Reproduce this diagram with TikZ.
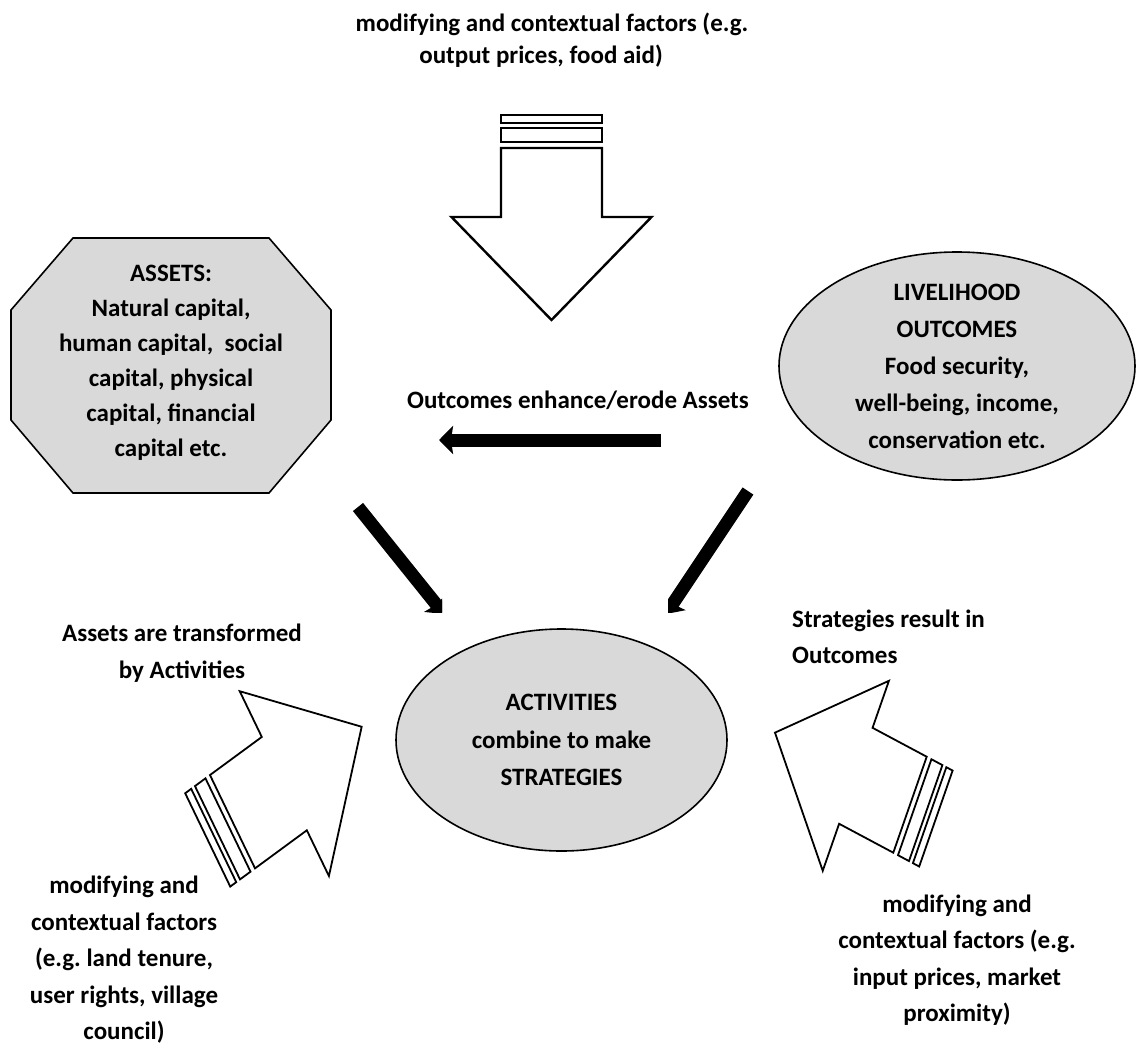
\documentclass[tikz,border=0pt]{standalone}
\usepackage{fontspec}
\setmainfont{Carlito}
\usetikzlibrary{shapes.geometric,arrows.meta,calc}
\definecolor{boxgray}{RGB}{217,217,217}
\frenchspacing
\newcommand{\myBlockArrow}[4]{%
  \draw[#4] ($(#1)-50.5*(#3)$) -- ($(#1)+69*(#2)-50.5*(#3)$) -- ($(#1)+69*(#2)-100*(#3)$) -- ($(#1)+172*(#2)$) -- ($(#1)+69*(#2)+100*(#3)$) -- ($(#1)+69*(#2)+50.5*(#3)$) -- ($(#1)+50.5*(#3)$) -- cycle;
  \draw[#4] ($(#1)-6*(#2)-50.5*(#3)$) -- ($(#1)-20*(#2)-50.5*(#3)$) -- ($(#1)-20*(#2)+50.5*(#3)$) -- ($(#1)-6*(#2)+50.5*(#3)$) -- cycle;
  \draw[#4] ($(#1)-25*(#2)-50.5*(#3)$) -- ($(#1)-33*(#2)-50.5*(#3)$) -- ($(#1)-33*(#2)+50.5*(#3)$) -- ($(#1)-25*(#2)+50.5*(#3)$) -- cycle;
}
\begin{document}
\begin{tikzpicture}[x=1pt,y=-1pt,
  lbl/.style={font=\fontsize{25}{36.5}\selectfont\bfseries, align=center, inner sep=0},
  shape box/.style={draw=black, line width=1.6pt, fill=boxgray},
  blockarrow/.style={draw=black, line width=#1, fill=white, line join=miter},
  thickarrow/.style={line width=13pt, -{Stealth[length=14pt,width=28pt,inset=2pt]}},
]
\useasboundingbox (0,0) rectangle (1141,1050);

% top text and top block arrow
\node[lbl, font=\fontsize{25}{32}\selectfont\bfseries] (toptext) at (552,40) {modifying and contextual factors (e.g.\\output prices, food aid)\hspace*{22pt}};
\coordinate (O1) at (551.5,148); \coordinate (U1) at (0,1); \coordinate (V1) at (1,0);
\myBlockArrow{O1}{U1}{V1}{blockarrow=2.4pt}

% ASSETS octagon
\coordinate (a1) at (73,238); \coordinate (a2) at (269,238); \coordinate (a3) at (331,310); \coordinate (a4) at (331,420);
\coordinate (a5) at (269,493); \coordinate (a6) at (73,493); \coordinate (a7) at (11,420); \coordinate (a8) at (11,310);
\draw[shape box] (a1) -- (a2) -- (a3) -- (a4) -- (a5) -- (a6) -- (a7) -- (a8) -- cycle;
\node[lbl, font=\fontsize{25}{35}\selectfont\bfseries] (assets) at (171,363) {ASSETS:\\Natural capital,\\human capital,\ \ social\\capital, physical\\capital, financial\\capital etc.};

% LIVELIHOOD OUTCOMES ellipse
\node[ellipse, shape box, minimum width=356pt, minimum height=228pt, inner sep=0] (outcomes) at (957,366) {};
\node[lbl, font=\fontsize{25}{37}\selectfont\bfseries] (outtext) at (outcomes.center) {LIVELIHOOD\\OUTCOMES\\Food security,\\well-being, income,\\conservation etc.};

% ACTIVITIES ellipse
\node[ellipse, shape box, minimum width=331pt, minimum height=222pt, inner sep=0] (activities) at (561.5,740) {};
\node[lbl, font=\fontsize{25}{37.5}\selectfont\bfseries] (acttext) at (activities.center) {ACTIVITIES\\combine to make\\STRATEGIES};

% middle labels
\node[lbl] (enhance) at (578,400) {Outcomes enhance/erode Assets};
\node[lbl] (transformed) at (182,653) {Assets are transformed\\by Activities};
\node[lbl, align=left, anchor=west] (strategies) at (792,637) {Strategies result in\\Outcomes};

% black arrows
\coordinate (h1) at (661,440); \coordinate (h2) at (439,440);
\draw[thickarrow] (h1) -- (h2);
\coordinate (d1) at (358,507); \coordinate (d2) at (444,614);
\begin{scope}
  \clip (300,480) rectangle (442,612);
  \draw[thickarrow] (d1) -- (d2);
\end{scope}
\coordinate (e1) at (748,491); \coordinate (e2) at (666,614);
\begin{scope}
  \clip (668,470) rectangle (800,612);
  \draw[thickarrow] (e1) -- (e2);
\end{scope}

% bottom block arrows
\coordinate (O2) at (232.5,821.7); \coordinate (U2) at (0.751,-0.552); \coordinate (V2) at (0.446,0.924);
\myBlockArrow{O2}{U2}{V2}{blockarrow=1.8pt}
\coordinate (O3) at (910,804.7); \coordinate (U3) at (-0.785,-0.419); \coordinate (V3) at (-0.331,0.950);
\myBlockArrow{O3}{U3}{V3}{blockarrow=1.8pt}

% bottom texts
\node[lbl] (bltext) at (124,960) {modifying and\\contextual factors\\(e.g. land tenure,\\user rights, village\\council)};
\node[lbl] (brtext) at (957,960) {modifying and\\contextual factors (e.g.\\input prices, market\\proximity)};
\end{tikzpicture}
\end{document}
